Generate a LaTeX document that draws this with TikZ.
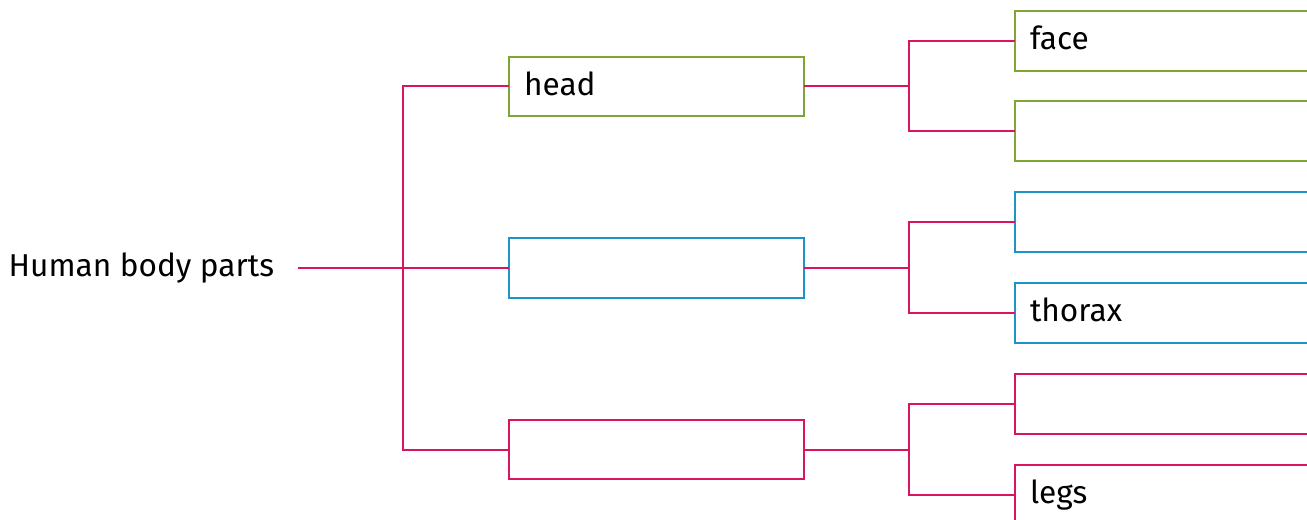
\documentclass[tikz,border=0pt]{standalone}
\usepackage{fontspec}
\setmainfont{Fira Sans}
\definecolor{leafgreen}{HTML}{7FA632}
\definecolor{skyblue}{HTML}{1E93C8}
\definecolor{berry}{HTML}{D9155F}

\begin{document}
\begin{tikzpicture}[x=0.02cm, y=-0.02cm,
  every node/.style={font=\fontsize{18}{22}\selectfont, text height=14pt, text depth=4pt, outer sep=0pt},
  box/.style={draw, line width=0.04cm, minimum height=1.2cm, inner xsep=0.3cm, align=left},
  midbox/.style={box, text width=5.3cm},
  leafbox/.style={box, text width=5.8cm},
  link/.style={draw=berry, line width=0.04cm}]
\clip (0,0) rectangle (1307,520);

\node[anchor=east, inner sep=0pt, outer xsep=0.48cm] (root) at (298,268) {Human body parts};

\node[midbox, draw=leafgreen] (head) at (656.5,86.5) {head};
\node[midbox, draw=skyblue] (trunk) at (656.5,268) {};
\node[midbox, draw=berry] (limbs) at (656.5,449.5) {};

\node[leafbox, draw=leafgreen] (face) at (1175,41) {face};
\node[leafbox, draw=leafgreen] (neck) at (1175,131) {};
\node[leafbox, draw=skyblue] (chest) at (1175,222) {};
\node[leafbox, draw=skyblue] (thorax) at (1175,313) {thorax};
\node[leafbox, draw=berry] (arms) at (1175,404) {};
\node[leafbox, draw=berry] (legs) at (1175,494.5) {legs};

\coordinate (j0) at (403,268);
\coordinate (j1) at (909,86.5);
\coordinate (j2) at (909,268);
\coordinate (j3) at (909,449.5);

\draw[link] (root.east) -- (j0) -- (trunk.west);
\draw[link] (head.west) -| (j0) |- (limbs.west);

\draw[link] (head.east) -- (j1);
\draw[link] (face.west) -| (j1) |- (neck.west);
\draw[link] (trunk.east) -- (j2);
\draw[link] (chest.west) -| (j2) |- (thorax.west);
\draw[link] (limbs.east) -- (j3);
\draw[link] (arms.west) -| (j3) |- (legs.west);
\end{tikzpicture}
\end{document}
